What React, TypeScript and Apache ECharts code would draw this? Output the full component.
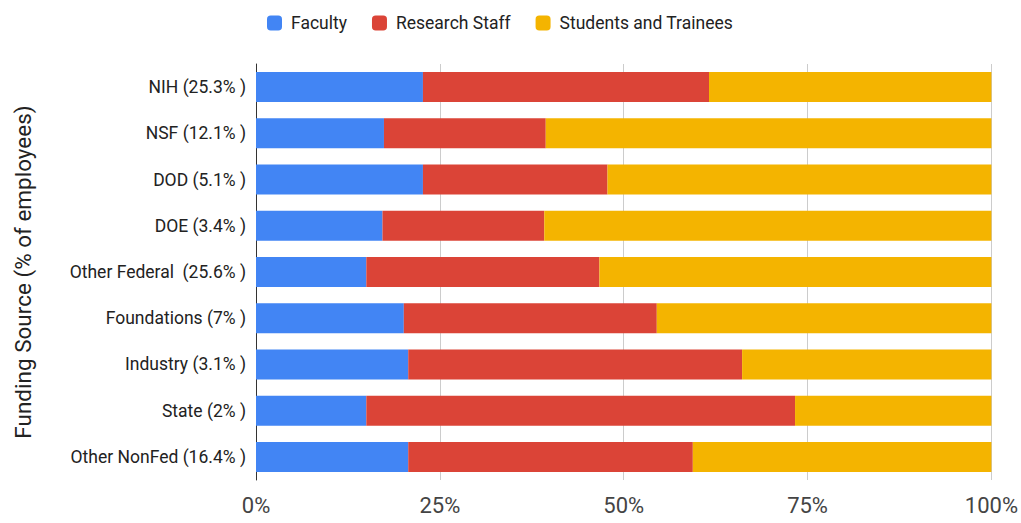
import React, { useEffect, useRef } from "react";
import * as echarts from "echarts";

const categories = [
  "NIH (25.3% )",
  "NSF (12.1% )",
  "DOD (5.1% )",
  "DOE (3.4% )",
  "Other Federal  (25.6% )",
  "Foundations (7% )",
  "Industry (3.1% )",
  "State (2% )",
  "Other NonFed (16.4% )",
];
const faculty = [22.7, 17.4, 22.7, 17.2, 15.0, 20.1, 20.7, 15.0, 20.7];
const researchStaff = [38.9, 22.0, 25.1, 22.0, 31.7, 34.4, 45.4, 58.3, 38.7];
const students = [38.4, 60.6, 52.2, 60.8, 53.3, 45.5, 33.9, 26.7, 40.6];
const xTicks = [0, 25, 50, 75, 100];

export default function App() {
  const ref = useRef<HTMLDivElement>(null);
  useEffect(() => {
    document.body.style.margin = "0";
    if (!ref.current) return;
    const chart = echarts.init(ref.current, null, { renderer: "svg" });
    const font = "Roboto, 'Noto Sans', sans-serif";
    chart.setOption({
      animation: false,
      textStyle: { fontFamily: font },
      color: ["#4285F4", "#DB4437", "#F4B400"],
      legend: {
        top: 9,
        left: 262,
        icon: "roundRect",
        itemWidth: 15,
        itemHeight: 15,
        itemGap: 25,
        textStyle: { fontSize: 17.5, color: "#222", fontFamily: font, padding: [0, 0, 0, 4] },
        data: ["Faculty", "Research Staff", "Students and Trainees"],
      },
      grid: { left: 256, right: 26, top: 64, bottom: 43, containLabel: false },
      xAxis: {
        type: "value",
        min: xTicks[0],
        max: xTicks[xTicks.length - 1],
        interval: 25,
        axisLine: { show: false },
        axisTick: { show: false },
        splitLine: { lineStyle: { color: "#ccc", width: 1 } },
        axisLabel: {
          formatter: "{value}%",
          fontSize: 22,
          color: "#444",
          margin: 14,
          fontFamily: font,
        },
      },
      yAxis: {
        type: "category",
        inverse: true,
        data: categories,
        axisLine: { show: true, lineStyle: { color: "#333", width: 1 } },
        axisTick: { show: false },
        axisLabel: { fontSize: 17.5, color: "#222", margin: 10, fontFamily: font },
        name: "Funding Source (% of employees)",
        nameLocation: "middle",
        nameGap: 222,
        nameTextStyle: { fontSize: 22.5, color: "#222", fontFamily: font },
      },
      series: [
        { name: "Faculty", type: "bar", stack: "t", barWidth: 30, data: faculty },
        { name: "Research Staff", type: "bar", stack: "t", barWidth: 30, data: researchStaff },
        { name: "Students and Trainees", type: "bar", stack: "t", barWidth: 30, data: students },
      ],
    });
    return () => chart.dispose();
  }, []);
  return <div ref={ref} style={{ width: 1021, height: 523 }} />;
}
